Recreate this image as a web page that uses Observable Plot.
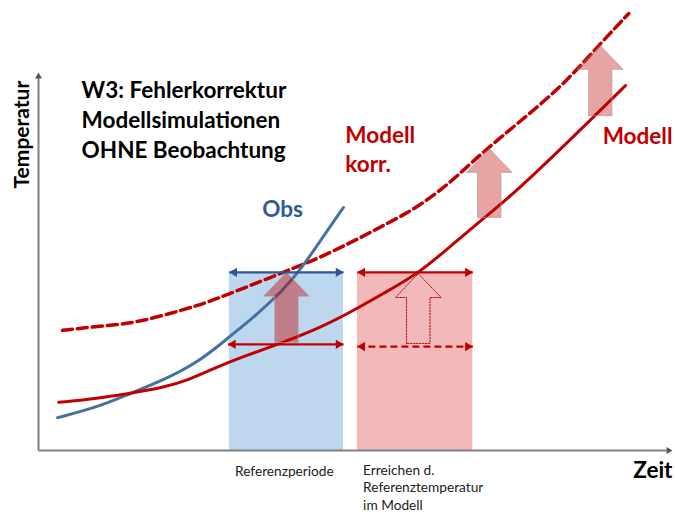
<!DOCTYPE html>
<html>
<head>
<meta charset="utf-8">
<script src="https://cdn.jsdelivr.net/npm/d3@7"></script>
<script src="https://cdn.jsdelivr.net/npm/@observablehq/plot@0.6"></script>
<style>
  html, body { margin: 0; padding: 0; background: #ffffff; }
  #chart svg { display: block; }
</style>
</head>
<body>
<div id="chart"></div>
<script>
// ---- data (abstract time 0..100, temperature 0..100) ----
const obsTime = [3.0, 9.3, 14.5, 19.7, 25.1, 28.7, 31.9, 33.9, 38.6, 41.6, 44.5, 48.1];
const obsTemp = [7.3, 9.6, 12.7, 15.6, 19.6, 23.6, 27.3, 29.6, 35.6, 40.7, 46.7, 54.0];

const modellTime = [3.2, 9.3, 14.5, 19.7, 23.5, 27.6, 31.9, 38.2, 44.5, 49.7, 54.4, 59.9, 65.0, 70.2, 74.0, 78.1, 83.4, 88.6, 92.6];
const modellTemp = [10.7, 11.6, 12.7, 14.0, 15.6, 18.2, 20.7, 23.8, 27.3, 31.1, 34.9, 39.3, 45.4, 51.6, 56.0, 61.3, 68.4, 75.6, 81.1];

const korrTime = [3.8, 9.3, 14.5, 19.7, 25.1, 28.7, 39.3, 44.5, 50.8, 54.4, 59.8, 65.0, 68.6, 72.9, 78.1, 83.4, 88.6, 93.1];
const korrTemp = [26.7, 27.6, 28.2, 30.0, 32.2, 34.0, 40.0, 42.9, 47.3, 50.0, 54.0, 59.6, 64.4, 69.6, 75.6, 82.2, 90.4, 97.1];

const periodNames = ["Referenzperiode", "Erreichen d.\nReferenztemperatur\nim Modell"];
const periodStart = [30.1, 50.3];
const periodEnd   = [48.1, 68.5];
const refTemp = 39.6;          // reference temperature (observed mean)
const modelRefTemp = 23.6;     // model mean in reference period
const modelRefTemp2 = 23.1;    // dashed level in second period

// correction arrows (time, from, to)
const corrTime = [39.1, 59.9, 71.1, 88.6];
const corrFrom = [24.0, 23.8, 51.8, 74.4];
const corrTo   = [39.6, 39.3, 67.1, 90.0];
const corrKind = ["inRef", "outline", "plain", "plain"];

const titleLines = ["W3: Fehlerkorrektur", "Modellsimulationen", "OHNE Beobachtung"];

// ---- derived tables ----
const obs = obsTime.map((t, i) => ({t, T: obsTemp[i]}));
const modell = modellTime.map((t, i) => ({t, T: modellTemp[i]}));
const korr = korrTime.map((t, i) => ({t, T: korrTemp[i]}));
const periods = periodNames.map((name, i) => ({name, start: periodStart[i], end: periodEnd[i]}));

const levels = [
  {from: periodStart[0], to: periodEnd[0], T: refTemp, color: "obs", dash: false},
  {from: periodStart[0] - 0.2, to: periodEnd[0], T: modelRefTemp, color: "mod", dash: false},
  {from: periodStart[1], to: periodEnd[1], T: refTemp, color: "mod", dash: false},
  {from: periodStart[1], to: periodEnd[1], T: modelRefTemp2, color: "mod", dash: true}
];
const solidLevels = levels.filter(d => !d.dash);
const dashLevels = levels.filter(d => d.dash);

const BLUE = "#4472a0", RED = "#c00000", GREY = "#808080";
const levelColor = d => d.color === "obs" ? "#2f5597" : RED;

// block arrow geometry (in data units)
const shaftHalf = 1.85, headHalf = 3.6, headLen = 5.3;
function arrowPoly(t, from, to) {
  const hb = to - headLen;
  return [
    [t - shaftHalf, from], [t - shaftHalf, hb], [t - headHalf, hb], [t, to],
    [t + headHalf, hb], [t + shaftHalf, hb], [t + shaftHalf, from], [t - shaftHalf, from]
  ].map(([x, y]) => ({x, y}));
}

const arrowMarks = corrTime.map((t, i) => {
  const poly = arrowPoly(t, corrFrom[i], corrTo[i]);
  const kind = corrKind[i];
  if (kind === "outline") {
    return Plot.line(poly, {x: "x", y: "y", curve: "linear", fill: "none",
      stroke: RED, strokeWidth: 1, strokeDasharray: "1.5,1.5"});
  }
  return Plot.line(poly, {x: "x", y: "y", curve: "linear", fill: RED,
    fillOpacity: kind === "inRef" ? 0.42 : 0.36,
    stroke: "#a0a0a0", strokeWidth: 0.8, strokeOpacity: 0.8});
});

const headOff = 5.0;
const BIG = 22.5;

const chart = Plot.plot({
  width: 675,
  height: 513,
  marginLeft: 38,
  marginRight: 3,
  marginTop: 0,
  marginBottom: 63,
  x: {domain: [0, 100], axis: null},
  y: {domain: [0, 100], axis: null},
  style: {background: "#ffffff", fontFamily: "Lato, 'Open Sans', sans-serif", overflow: "visible"},
  marks: [
    // periods
    Plot.rectY(periods, {x1: "start", x2: "end", y1: 0, y2: refTemp,
      fill: (d, i) => i === 0 ? "#bdd7ee" : "#f2b9bb"}),
    // axes
    Plot.link([{x1: 0, y1: 0, x2: 0, y2: 83}], {x1: "x1", y1: "y1", x2: "x2", y2: "y2", stroke: GREY, strokeWidth: 2}),
    Plot.link([{x1: 0, y1: 0, x2: 99, y2: 0}], {x1: "x1", y1: "y1", x2: "x2", y2: "y2", stroke: GREY, strokeWidth: 2}),
    Plot.dot([[0, 84]], {x: d => d[0], y: d => d[1], symbol: "triangle", r: 2.6, fill: "#555", stroke: "none", dy: 4}),
    Plot.dot([[100, 0]], {x: d => d[0], y: d => d[1], symbol: "triangle", r: 2.6, fill: "#555", stroke: "none", rotate: 90, dx: -4}),
    // curves
    Plot.line(korr, {x: "t", y: "T", curve: "basis", stroke: RED, strokeWidth: 3.5, strokeDasharray: "10,5"}),
    Plot.line(obs, {x: "t", y: "T", curve: "basis", stroke: BLUE, strokeWidth: 3}),
    Plot.line(modell, {x: "t", y: "T", curve: "basis", stroke: RED, strokeWidth: 3}),
    // correction arrows
    ...arrowMarks,
    // level double arrows
    Plot.link(solidLevels, {x1: "from", x2: "to", y1: "T", y2: "T", stroke: levelColor, strokeWidth: 2.2}),
    Plot.link(dashLevels, {x1: "from", x2: "to", y1: "T", y2: "T", stroke: levelColor, strokeWidth: 2.2, strokeDasharray: "7,4"}),
    Plot.dot(levels, {x: "from", y: "T", symbol: "triangle", r: 3.4, rotate: -90, dx: headOff, fill: levelColor, stroke: "none"}),
    Plot.dot(levels, {x: "to", y: "T", symbol: "triangle", r: 3.4, rotate: 90, dx: -headOff, fill: levelColor, stroke: "none"}),
    // texts
    Plot.text([titleLines.join("\n")], {x: 6.8, y: 65.1, text: d => d, textAnchor: "start", lineAnchor: "bottom",
      lineHeight: 1.33, fontSize: BIG, fontWeight: "bold", fill: "#000"}),
    Plot.text(["Temperatur"], {x: -2.6, y: 70.2, text: d => d, rotate: -90, textAnchor: "middle", lineAnchor: "middle",
      fontSize: 21, fontWeight: "bold", fill: "#000"}),
    Plot.text(["Obs"], {x: 38.5, y: 51.8, text: d => d, textAnchor: "middle", lineAnchor: "bottom",
      fontSize: BIG, fontWeight: "bold", fill: "#2f5d98"}),
    Plot.text(["Modell\nkorr."], {x: 48.4, y: 61.8, text: d => d, textAnchor: "start", lineAnchor: "bottom",
      lineHeight: 1.29, fontSize: BIG, fontWeight: "bold", fill: RED}),
    Plot.text(["Modell"], {x: 100, y: 68.2, text: d => d, textAnchor: "end", lineAnchor: "bottom",
      fontSize: BIG, fontWeight: "bold", fill: RED}),
    Plot.text([periods[0]], {x: d => d.start + 0.9, y: -5.6, text: "name", textAnchor: "start", lineAnchor: "bottom",
      fontSize: 13.7, fill: "#222"}),
    Plot.text([periods[1]], {x: d => d.start + 0.9, y: -13.2, text: "name", textAnchor: "start", lineAnchor: "bottom",
      lineHeight: 1.28, fontSize: 13.7, fill: "#222"}),
    Plot.text(["Zeit"], {x: 100, y: -6, text: d => d, textAnchor: "end", lineAnchor: "bottom",
      fontSize: BIG, fontWeight: "bold", fill: "#000"})
  ]
});
document.getElementById("chart").appendChild(chart);
</script>
</body>
</html>
